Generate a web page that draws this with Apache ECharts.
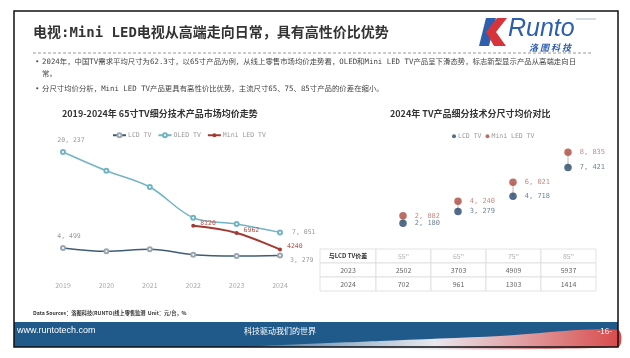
<!DOCTYPE html>
<html><head><meta charset="utf-8">
<script src="https://cdn.jsdelivr.net/npm/echarts@6/dist/echarts.min.js"></script>
<style>html,body{margin:0;padding:0;background:#fff}#c{width:630px;height:358px}</style>
</head><body><div id="c"></div>
<script>
// ---- data ----
const years = ['2019','2020','2021','2022','2023','2024'];
const lcd65 = [4499,3950,4280,3390,3180,3279];
const oled65 = [20237,17160,14490,9460,8430,7051];
const mini65 = [null,null,null,8120,6962,4240];
const sizes = ['55"','65"','75"','85"'];
const lcd2024 = [2180,3279,4718,7421];
const mini2024 = [2882,4240,6021,8835];
const tableHeader = ['与LCD TV价差','55"','65"','75"','85"'];
const tableYears = ['2023','2024'];
const gap2023 = [2502,3703,4909,5937];
const gap2024 = [702,961,1303,1414];

const pageTitle = '电视:Mini LED电视从高端走向日常，具有高性价比优势';
const bullet1a = '2024年，中国TV需求平均尺寸为62.3寸，以65寸产品为例，从线上零售市场均价走势看，OLED和Mini LED TV产品呈下滑态势，标志新型显示产品从高端走向日';
const bullet1b = '常。';
const bullet2 = '分尺寸均价分析，Mini LED TV产品更具有高性价比优势，主流尺寸65、75、85寸产品的价差在缩小。';
const leftTitle = '2019-2024年 65寸TV细分技术产品市场均价走势';
const rightTitle = '2024年 TV产品细分技术分尺寸均价对比';
const sourceText = 'Data Sources：洛图科技(RUNTO)线上零售监测  Unit：元/台，%';

const MONO = "'DejaVu Sans Mono','Noto Sans CJK SC'";
const CJK = "'Noto Sans CJK SC'";
const fmt = v => String(v).replace(/\B(?=(\d{3})+(?!\d))/g, ', ');

const C_LCD = '#3f5c75', C_OLED = '#72b4c4', C_MINI = '#a23a32';
const C_LCD2 = '#26496b', C_MINI2 = '#ab4a3f';

function labeled(arr, idxs, lab) {
  return arr.map((v, i) => {
    if (v == null) return null;
    if (idxs.indexOf(i) < 0) return v;
    return { value: v, label: Object.assign({ show: true }, lab[i] || {}) };
  });
}

// ---- graphics ----
const g = [];
g.push({ type: 'rect', shape: { x: 14, y: 11, width: 604, height: 336 }, style: { fill: 'none', stroke: '#111', lineWidth: 1.5 }, z: 10 });
g.push({ type: 'text', x: 33, y: 33, style: { text: pageTitle, font: 'bold 14px ' + MONO, fill: '#333', textVerticalAlign: 'middle' } });
g.push({ type: 'line', shape: { x1: 33, y1: 53, x2: 592, y2: 53 }, style: { stroke: '#9a9a9a', lineWidth: 1, lineDash: [3, 2] } });
// logo
g.push({ type: 'polygon', shape: { points: [[486, 18], [496, 18], [489, 46], [479, 46]] }, style: { fill: '#2d5fae' } });
g.push({ type: 'polygon', shape: { points: [[497, 18], [507, 18], [496, 32], [506, 46], [494, 46], [486, 32]] }, style: { fill: '#d6343a' } });
g.push({ type: 'text', x: 508, y: 29, style: { text: 'Runto', font: 'italic 25px ' + "'Liberation Sans'", fill: '#2d5fae', textVerticalAlign: 'middle' } });
g.push({ type: 'line', shape: { x1: 576, y1: 19, x2: 596, y2: 19 }, style: { stroke: '#9ab', lineWidth: 0.8 } });
g.push({ type: 'text', x: 550, y: 48, style: { text: '洛 图 科 技', font: 'italic bold 9px ' + CJK, fill: '#2d5fae', textAlign: 'center', textVerticalAlign: 'middle' } });
// bullets
const bf = '7.4px ' + MONO;
g.push({ type: 'text', x: 35, y: 62, style: { text: '•', font: bf, fill: '#555', textVerticalAlign: 'middle' } });
g.push({ type: 'text', x: 42, y: 62, style: { text: bullet1a, font: bf, fill: '#444', textVerticalAlign: 'middle' } });
g.push({ type: 'text', x: 42, y: 74, style: { text: bullet1b, font: bf, fill: '#444', textVerticalAlign: 'middle' } });
g.push({ type: 'text', x: 35, y: 89, style: { text: '•', font: bf, fill: '#555', textVerticalAlign: 'middle' } });
g.push({ type: 'text', x: 42, y: 89, style: { text: bullet2, font: bf, fill: '#444', textVerticalAlign: 'middle' } });
// source
g.push({ type: 'text', x: 33, y: 313, style: { text: sourceText, font: 'bold 5.2px ' + CJK, fill: '#333', textVerticalAlign: 'middle' } });
// footer
g.push({ type: 'rect', shape: { x: 14, y: 322, width: 604, height: 25 }, style: { fill: '#1f5a8b' } });
g.push({ type: 'polygon', shape: { smooth: 0.3, points: [[250, 347], [380, 341], [500, 336], [618, 330], [618, 347]] }, style: {
  fill: new echarts.graphic.LinearGradient(0, 0, 1, 0, [{ offset: 0, color: 'rgba(255,255,255,0.15)' }, { offset: 0.5, color: '#e8e8ee' }, { offset: 1, color: '#d84a4a' }]) } });
g.push({ type: 'text', x: 17, y: 331, style: { text: 'www.runtotech.com', font: '9px ' + "'Liberation Sans'", fill: '#fff', textVerticalAlign: 'middle' } });
g.push({ type: 'text', x: 280, y: 331, style: { text: '科技驱动我们的世界', font: '8px ' + CJK, fill: '#fff', textAlign: 'center', textVerticalAlign: 'middle' } });
g.push({ type: 'text', x: 612, y: 331, style: { text: '-16-', font: '8px ' + CJK, fill: '#fff', textAlign: 'right', textVerticalAlign: 'middle' } });
// table
const colX = [320, 376, 431, 486, 541, 596];
const rowY = [249, 263, 277, 291];
const tRows = [tableHeader, [tableYears[0]].concat(gap2023.map(String)), [tableYears[1]].concat(gap2024.map(String))];
for (let r = 0; r < 3; r++) {
  for (let c = 0; c < 5; c++) {
    g.push({ type: 'rect', shape: { x: colX[c], y: rowY[r], width: colX[c + 1] - colX[c], height: rowY[r + 1] - rowY[r] }, style: { fill: '#fff', stroke: '#dcdcdc', lineWidth: 0.8 } });
    const hdr = r === 0;
    g.push({ type: 'text', x: (colX[c] + colX[c + 1]) / 2, y: (rowY[r] + rowY[r + 1]) / 2, z: 2, style: {
      text: tRows[r][c], textAlign: 'center', textVerticalAlign: 'middle',
      font: (hdr && c === 0 ? 'bold 6px ' : '7px ') + CJK,
      fill: hdr ? (c === 0 ? '#333' : '#b0b0b0') : '#666' } });
  }
}

const option = {
  animation: false,
  textStyle: { fontFamily: CJK },
  title: [
    { text: leftTitle, left: 57, top: 104, textStyle: { fontSize: 9, fontWeight: 'bold', color: '#333', fontFamily: CJK } },
    { text: rightTitle, left: 385, top: 104, textStyle: { fontSize: 9, fontWeight: 'bold', color: '#333', fontFamily: CJK } }
  ],
  legend: [
    { left: 107, top: 127, itemWidth: 13, itemHeight: 5, itemGap: 6, textStyle: { fontSize: 6.5, color: '#999', fontFamily: MONO, padding: [0, 0, 0, -3] },
      data: ['LCD TV', 'OLED TV', 'Mini LED TV'] },
    { left: 447, top: 128, itemWidth: 4, itemHeight: 4, itemGap: 4, textStyle: { fontSize: 6.5, color: '#999', fontFamily: MONO, padding: [0, 0, 0, -3] },
      data: [{ name: 'LCD', icon: 'circle' }, { name: 'Mini', icon: 'circle' }],
      formatter: n => n === 'LCD' ? 'LCD TV' : 'Mini LED TV' }
  ],
  grid: [
    { left: 63, right: 350, top: 141.2, bottom: 82.6 },
    { left: 375.5, right: 34.5, top: 139.9, bottom: 111.4 }
  ],
  xAxis: [
    { type: 'category', gridIndex: 0, data: years, boundaryGap: false, axisLine: { show: false }, axisTick: { show: false },
      axisLabel: { fontSize: 7, color: '#aaa', margin: 6 } },
    { type: 'category', gridIndex: 1, data: sizes, show: false }
  ],
  yAxis: [
    { type: 'value', gridIndex: 0, min: 0, max: 22000, show: false },
    { type: 'value', gridIndex: 1, min: 0, max: 10000, show: false }
  ],
  series: [
    { name: 'LCD TV', type: 'line', xAxisIndex: 0, yAxisIndex: 0, smooth: 0.35, symbol: 'emptyCircle', symbolSize: 4,
      lineStyle: { color: C_LCD, width: 1.5 }, itemStyle: { color: '#9aa6b0', borderColor: '#9aa6b0', borderWidth: 1 },
      label: { fontSize: 6.5, color: '#999', fontFamily: MONO, formatter: p => fmt(p.value) },
      data: labeled(lcd65, [0, 5], { 0: { position: 'top', offset: [6, 0] }, 5: { position: 'right', offset: [2, 5] } }) },
    { name: 'OLED TV', type: 'line', xAxisIndex: 0, yAxisIndex: 0, smooth: 0.35, symbol: 'emptyCircle', symbolSize: 4,
      lineStyle: { color: C_OLED, width: 1.5 }, itemStyle: { color: C_OLED, borderColor: '#b9d8e0', borderWidth: 1 },
      label: { fontSize: 6.5, color: '#999', fontFamily: MONO, formatter: p => fmt(p.value) },
      data: labeled(oled65, [0, 5], { 0: { position: 'top', offset: [8, 0] }, 5: { position: 'right', offset: [4, 0] } }) },
    { name: 'Mini LED TV', type: 'line', xAxisIndex: 0, yAxisIndex: 0, smooth: 0.35, symbol: 'circle', symbolSize: 4,
      lineStyle: { color: C_MINI, width: 2 }, itemStyle: { color: C_MINI },
      label: { fontSize: 6.5, color: '#b4554b', fontFamily: MONO, position: 'right', offset: [0, -3], formatter: p => String(p.value) },
      data: labeled(mini65, [3, 4, 5], {}) },
    { type: 'custom', xAxisIndex: 1, yAxisIndex: 1, silent: true, z: 1,
      data: sizes.map((s, i) => [i, lcd2024[i], mini2024[i]]),
      renderItem: (params, api) => {
        const a = api.coord([api.value(0), api.value(1)]);
        const b = api.coord([api.value(0), api.value(2)]);
        return { type: 'line', shape: { x1: a[0], y1: a[1], x2: b[0], y2: b[1] }, style: { stroke: '#dccaca', lineWidth: 1.5 } };
      } },
    { name: 'LCD', type: 'scatter', xAxisIndex: 1, yAxisIndex: 1, symbolSize: 7.5, itemStyle: { color: C_LCD2 }, z: 3,
      label: { show: true, position: 'right', distance: 8, fontSize: 7, color: '#4a6279', fontFamily: MONO, formatter: p => fmt(p.value) },
      data: lcd2024 },
    { name: 'Mini', type: 'scatter', xAxisIndex: 1, yAxisIndex: 1, symbolSize: 7.5, itemStyle: { color: C_MINI2 }, z: 3,
      label: { show: true, position: 'right', distance: 8, fontSize: 7, color: '#b86d64', fontFamily: MONO, formatter: p => fmt(p.value) },
      data: mini2024 }
  ],
  graphic: { elements: g }
};
const chart = echarts.init(document.getElementById('c'), null, { renderer: 'canvas' });
chart.setOption(option);
</script></body></html>
